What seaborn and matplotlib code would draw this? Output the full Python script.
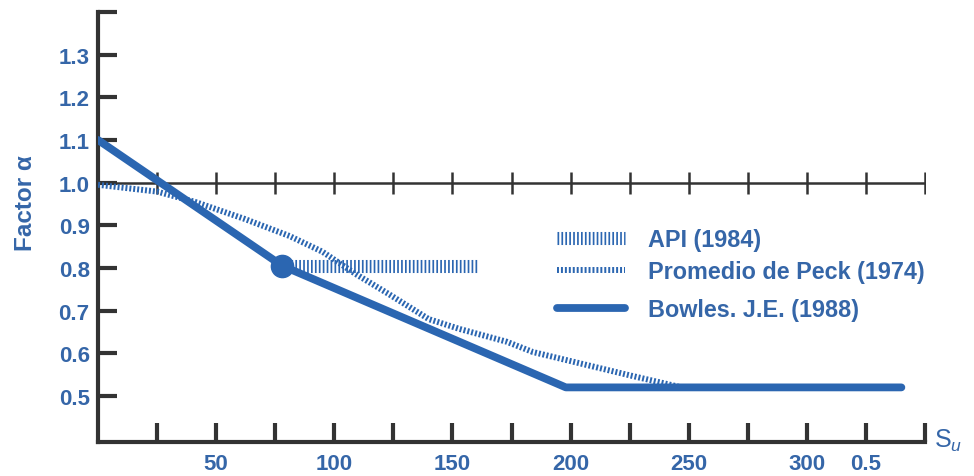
#!/usr/bin/env python3
"""Factor alpha vs undrained shear strength (API, Peck, Bowles)."""

import matplotlib

matplotlib.use("Agg")
import matplotlib.pyplot as plt
import pandas as pd
import seaborn as sns

# Bowles J.E. (1988)
BOWLES_X = [0, 78, 198, 340]
BOWLES_Y = [1.10, 0.805, 0.52, 0.52]

# Promedio de Peck (1974)
PECK_X = [0, 25, 41, 62, 81, 95, 109, 123, 140, 153, 173, 184, 226, 247]
PECK_Y = [0.995, 0.979, 0.955, 0.915, 0.875, 0.838, 0.786, 0.739, 0.68, 0.657,
          0.627, 0.603, 0.547, 0.52]

# API (1984)
API_X = [80, 161]
API_Y = [0.805, 0.805]

# marker on Bowles curve
DOT_X = [78]
DOT_Y = [0.805]

X_TICKS = [25, 50, 75, 100, 125, 150, 175, 200, 225, 250, 275, 300, 325, 350]
X_LABELS = ["", "50", "", "100", "", "150", "", "200", "", "250", "", "300", "0.5", ""]
Y_TICKS = [0.5, 0.6, 0.7, 0.8, 0.9, 1.0, 1.1, 1.2, 1.3, 1.4]
Y_LABELS = ["0.5", "0.6", "0.7", "0.8", "0.9", "1.0", "1.1", "1.2", "1.3", ""]

BLUE = "#2b66b1"
TEXT_BLUE = "#3566a8"
DARK = "#333333"
NARROW = ["Liberation Sans Narrow", "Liberation Sans", "DejaVu Sans"]

sns.set_theme(style="white")
plt.rcParams["font.family"] = ["Liberation Sans", "DejaVu Sans"]
plt.rcParams["mathtext.fontset"] = "custom"
plt.rcParams["mathtext.rm"] = "Liberation Sans"
plt.rcParams["mathtext.it"] = "Liberation Sans:italic"

fig = plt.figure(figsize=(9.74, 4.77), dpi=100)
ax = fig.add_axes([98 / 974, 34 / 477, 827 / 974, 430 / 477])

bowles = pd.DataFrame({"x": BOWLES_X, "y": BOWLES_Y})
peck = pd.DataFrame({"x": PECK_X, "y": PECK_Y})
api = pd.DataFrame({"x": API_X, "y": API_Y})

# reference line at 1.0 with its own tick marks
ax.plot([0] + X_TICKS, [1.0] * (len(X_TICKS) + 1), color=DARK, lw=1.8,
        marker="|", markersize=16, markeredgewidth=1.8,
        markevery=list(range(1, len(X_TICKS) + 1)), zorder=1)

sns.lineplot(data=api, x="x", y="y", ax=ax, color=BLUE, lw=9.4,
             linestyle=(0, (0.13, 0.17)), dash_capstyle="butt",
             label="API (1984)", sort=False, estimator=None, zorder=3)
sns.lineplot(data=peck, x="x", y="y", ax=ax, color=BLUE, lw=4.3,
             linestyle=(0, (0.33, 0.33)), dash_capstyle="butt",
             label="Promedio de Peck (1974)", sort=False, estimator=None, zorder=3)
sns.lineplot(data=bowles, x="x", y="y", ax=ax, color=BLUE, lw=5.6,
             solid_capstyle="round", label="Bowles. J.E. (1988)",
             sort=False, estimator=None, zorder=4)
ax.plot(DOT_X, DOT_Y, "o", color=BLUE, markersize=16, zorder=5)

ax.set_xlim(0, 350)
ax.set_ylim(0.392, 1.40)

for side in ["top", "right"]:
    ax.spines[side].set_visible(False)
for side in ["left", "bottom"]:
    ax.spines[side].set_color(DARK)
    ax.spines[side].set_linewidth(3)

ax.set_xticks(X_TICKS)
ax.set_xticklabels(X_LABELS)
ax.set_yticks(Y_TICKS)
ax.set_yticklabels(Y_LABELS)
ax.tick_params(axis="both", direction="in", length=14, width=3, color=DARK,
               labelcolor=TEXT_BLUE, labelsize=16)
ax.tick_params(axis="x", pad=8, bottom=True)
ax.tick_params(axis="y", pad=6, left=True)
for lab in ax.get_xticklabels() + ax.get_yticklabels():
    lab.set_fontweight("bold")
    lab.set_family(NARROW)

ax.set_xlabel("")
ax.set_ylabel("Factor α", color=TEXT_BLUE, fontsize=17.5, fontweight="bold")
ax.yaxis.set_label_coords(-0.074, 0.557)

ax.text(354, 0.396, r"S$_{\mathit{u}}$", color=TEXT_BLUE, fontsize=18,
        ha="left", va="center", clip_on=False)

# legend: API + Peck close together, Bowles a bit lower
handles, labels = ax.get_legend_handles_labels()
legend_kw = dict(loc="upper left", bbox_transform=fig.transFigure, frameon=False,
                 borderpad=0, borderaxespad=0, handlelength=2.9, handletextpad=1.0,
                 labelspacing=0.4, prop={"size": 16.8, "weight": "bold"})
leg1 = ax.legend(handles[:2], labels[:2], bbox_to_anchor=(557 / 974, 1 - 229 / 477),
                 **legend_kw)
ax.add_artist(leg1)
leg2 = ax.legend(handles[2:], labels[2:], bbox_to_anchor=(557 / 974, 1 - 299 / 477),
                 **legend_kw)
for lg in (leg1, leg2):
    for t in lg.get_texts():
        t.set_color(TEXT_BLUE)

fig.savefig("out.png", dpi=100)
